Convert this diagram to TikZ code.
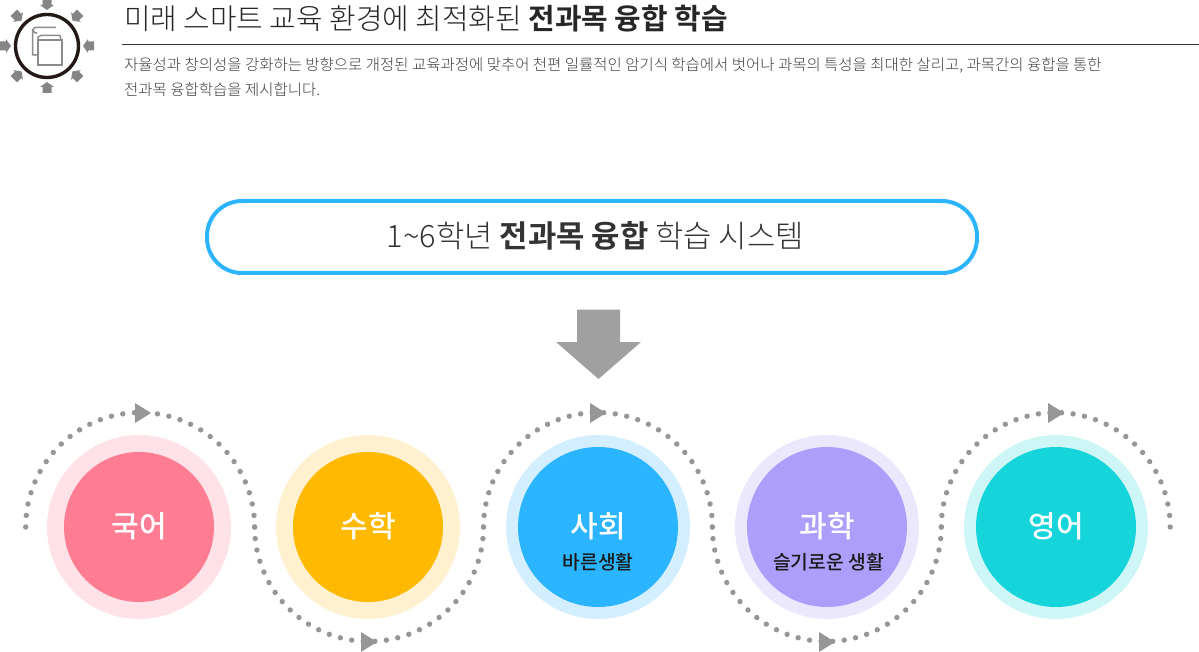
\documentclass[tikz,border=0pt]{standalone}
\usepackage{fontspec}
\setmainfont{Noto Sans CJK KR}[BoldFont={Noto Sans CJK KR Bold}]
\newfontfamily\krlight{Noto Sans CJK KR Light}
\newfontfamily\krmedium{Noto Sans CJK KR Medium}
\definecolor{dotgray}{HTML}{969696}
\definecolor{arrowgray}{HTML}{A0A0A0}
\definecolor{smallgray}{HTML}{858585}
\definecolor{bookgray}{HTML}{8C8C8C}
\definecolor{iconk}{HTML}{231815}
\definecolor{pillblue}{HTML}{2DB4FF}
\definecolor{pinkO}{HTML}{FFE2E8}
\definecolor{pinkI}{HTML}{FF7D92}
\definecolor{yelO}{HTML}{FFF0CF}
\definecolor{yelI}{HTML}{FFB900}
\definecolor{bluO}{HTML}{D3EEFF}
\definecolor{bluI}{HTML}{2BB4FF}
\definecolor{purO}{HTML}{EBE8FD}
\definecolor{purI}{HTML}{AD9EFC}
\definecolor{tealO}{HTML}{CFF6F7}
\definecolor{tealI}{HTML}{15D4DA}
\tikzset{
  x=1pt,y=-1pt,
  outerc/.style={circle,minimum size=184pt,inner sep=0pt,fill=#1},
  innerc/.style={circle,inner sep=0pt,fill=#1},
  tri/.style={fill=dotgray,draw=none},
  smallarrow/.style={fill=smallgray,draw=none},
  bookline/.style={draw=bookgray,line width=1.5pt,fill=none},
  subj/.style={text=white,inner sep=0pt,font=\krmedium\fontsize{30}{32}\selectfont},
  subt/.style={text=black!90,inner sep=0pt,font=\krmedium\fontsize{19.3}{22}\selectfont},
  desc/.style={anchor=base west,inner sep=0pt,text=black!75,font=\krlight\fontsize{15.49}{20}\selectfont},
}
\begin{document}
\begin{tikzpicture}
\useasboundingbox (0,0) rectangle (1199,652);
% header icon
\foreach \a in {0,45,...,315}{
  \begin{scope}[shift={(47,46)},rotate=\a]
    \path[smallarrow] (36,0) -- (41,-7) -- (41,-4.5) -- (47,-4.5) -- (47,4.5) -- (41,4.5) -- (41,7) -- cycle;
  \end{scope}
}
\node[circle,draw=iconk,line width=3.4pt,minimum size=63pt,inner sep=0pt] (icon) at (47,46) {};
\draw[bookline,line join=round] (56,27.5) -- (35,27.5) -- (32.5,30) -- (32.5,55) -- (37.5,55);
\draw[bookline,line join=round] (32.5,30) -- (35,33) -- (37,33);
\draw[bookline,line join=round] (38,40) -- (38,37) -- (41,35.5) -- (60,35.5) -- (61,40);
\draw[bookline] (38,40) rectangle (62,65);
% header text
\node[anchor=base west,inner sep=0pt,text=black!85,font=\fontsize{28.9}{32}\selectfont] (title) at (124,30) {{\krlight 미래 스마트 교육 환경에 최적화된} \textbf{전과목 융합 학습}};
\coordinate (ruleA) at (122,44.5);
\coordinate (ruleB) at (1199,44.5);
\draw[black!80,line width=1pt] (ruleA) -- (ruleB);
\node[desc] (d1) at (124,71) {자율성과 창의성을 강화하는 방향으로 개정된 교육과정에 맞추어 천편 일률적인 암기식 학습에서 벗어나 과목의 특성을 최대한 살리고, 과목간의 융합을 통한};
\node[desc] (d2) at (124,96) {전과목 융합학습을 제시합니다.};
% pill
\node[draw=pillblue,line width=4pt,rounded corners=35pt,minimum width=770pt,minimum height=72pt,inner sep=0pt] (pill) at (592,237) {};
\node[inner sep=0pt,text=black!80,font=\fontsize{30.8}{34}\selectfont] (pilltext) at (595.5,236) {{\krlight 1\textasciitilde6학년} \textbf{전과목 융합} {\krlight 학습 시스템}};
% big arrow
\path[fill=arrowgray] (577,309.5) -- (620,309.5) -- (620,342) -- (641,342) -- (598.5,379) -- (556,342) -- (577,342) -- cycle;
% dotted arcs: 31 intervals on each half turn
\foreach \cx/\sgn in {140.15/1,369.05/-1,597.95/1,826.85/-1,1055.75/1}{
  \foreach \i in {0,...,31}{
    \fill[dotgray] ({\cx-114.45*cos(\i*180/31)},{527-\sgn*114.45*sin(\i*180/31)}) circle[radius=2.7pt];
  }
}
% triangles
\foreach \x/\y in {135/413,361/642,590/413,819/642,1048/413}{
  \path[tri] (\x,\y-10) -- (\x+16,\y) -- (\x,\y+10) -- cycle;
}
% circles
\node[outerc=pinkO] (o1) at (139,527) {};
\node[outerc=yelO] (o2) at (368,527) {};
\node[outerc=bluO] (o3) at (598,527) {};
\node[outerc=purO] (o4) at (827,527) {};
\node[outerc=tealO] (o5) at (1056,527) {};
\node[innerc=pinkI,minimum size=150pt] (i1) at (139,527) {};
\node[innerc=yelI,minimum size=150pt] (i2) at (368,527) {};
\node[innerc=bluI,minimum size=160pt] (i3) at (598,527) {};
\node[innerc=purI,minimum size=160pt] (i4) at (827,527) {};
\node[innerc=tealI,minimum size=160pt] (i5) at (1056,527) {};
\node[subj] (t1) at (139,526) {국어};
\node[subj] (t2) at (368,526) {수학};
\node[subj] (t3) at (598,526) {사회};
\node[subt] (u3) at (598,562) {바른생활};
\node[subj] (t4) at (827,526) {과학};
\node[subt] (u4) at (828.5,562) {슬기로운 생활};
\node[subj] (t5) at (1056,526) {영어};
\end{tikzpicture}
\end{document}
